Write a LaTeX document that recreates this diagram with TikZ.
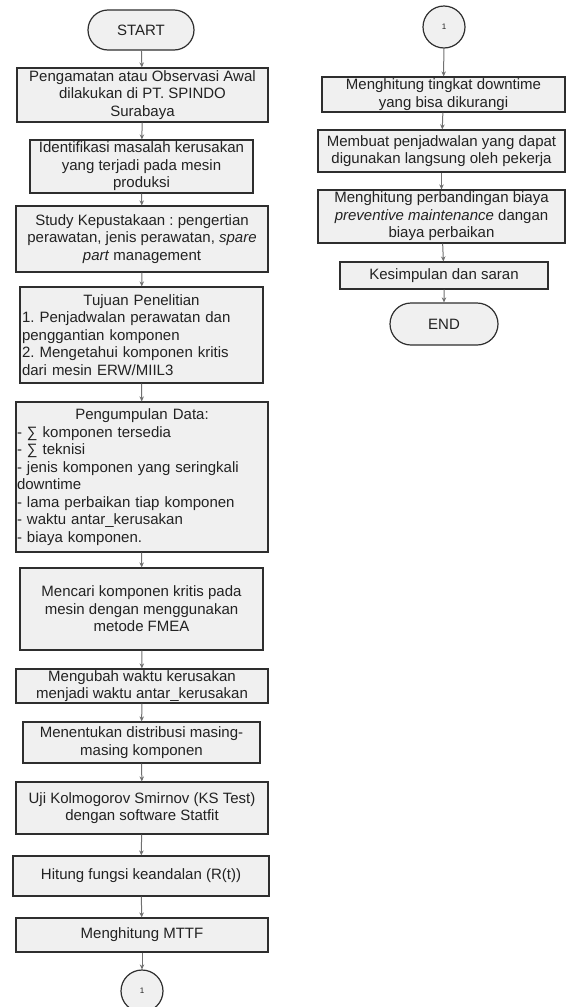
\documentclass[tikz,border=0pt]{standalone}
\usepackage{fontspec}
\setmainfont{Liberation Sans}
\usetikzlibrary{arrows.meta,shapes.misc}
\frenchspacing
\definecolor{boxfill}{HTML}{F0F0F0}
\definecolor{boxline}{HTML}{2E2E2E}
\definecolor{arrcol}{HTML}{707070}
\definecolor{txtcol}{HTML}{222222}
\tikzset{
  base/.style={draw=boxline, line width=1.2pt, fill=boxfill, text=txtcol, inner xsep=2pt, inner ysep=0pt,
    font={\fontsize{15}{17.5}\selectfont\frenchspacing}},
  pbox/.style={base, rectangle, align=center},
  lbox/.style={base, rectangle, align=left},
  term/.style={base, rounded rectangle, align=center},
  conn/.style={base, circle, inner sep=0pt, minimum size=42pt, font={\fontsize{8}{9}\selectfont}},
  arr/.style={draw=arrcol, line width=1pt, -{Stealth[length=5pt,width=4.5pt]}}
}
\begin{document}
\begin{tikzpicture}[x=1pt,y=-1pt]
\useasboundingbox (0,0) rectangle (566,1007);
% left column
\node[term, minimum width=110pt, minimum height=40pt] (start) at (141,30) {START};
\node[pbox, minimum width=251pt, minimum height=54pt] (b1) at (142.5,95) {Pengamatan atau Observasi Awal\\dilakukan di PT. SPINDO\\Surabaya};
\node[pbox, minimum width=223pt, minimum height=53pt] (b2) at (141.5,166.5) {Identifikasi masalah kerusakan\\yang terjadi pada mesin\\produksi};
\node[pbox, minimum width=252pt, minimum height=66pt] (b3) at (142,239) {Study Kepustakaan : pengertian\\perawatan, jenis perawatan, \textit{spare}\\\textit{part} management};
\node[lbox, text width=239pt, minimum height=96pt] (b4) at (141.5,335) {\makebox[239pt][c]{Tujuan Penelitian}\\1. Penjadwalan perawatan dan\\penggantian komponen\\2. Mengetahui komponen kritis\\dari mesin ERW/MIIL3};
\node[lbox, text width=250pt, inner xsep=1pt, minimum height=150pt] (b5) at (142,477) {\makebox[250pt][c]{Pengumpulan Data:}\\- ∑ komponen tersedia\\- ∑ teknisi\\- jenis komponen yang seringkali\\downtime\\- lama perbaikan tiap komponen\\- waktu antar\_kerusakan\\- biaya komponen.};
\node[pbox, minimum width=243pt, minimum height=82pt] (b6) at (141.5,609) {Mencari komponen kritis pada\\mesin dengan menggunakan\\metode FMEA};
\node[pbox, minimum width=252pt, minimum height=34pt] (b7) at (142,686) {Mengubah waktu kerusakan\\menjadi waktu antar\_kerusakan};
\node[pbox, minimum width=237pt, minimum height=41pt] (b8) at (141.5,742.5) {Menentukan distribusi masing-\\masing komponen};
\node[pbox, minimum width=252pt, minimum height=52pt] (b9) at (142,808) {Uji Kolmogorov Smirnov (KS Test)\\dengan software Statfit};
\node[pbox, minimum width=256pt, minimum height=40pt] (b10) at (141,876) {Hitung fungsi keandalan (R(t))};
\node[pbox, minimum width=252pt, minimum height=34pt] (b11) at (142,935) {Menghitung MTTF};
\node[conn] (c1) at (142,991) {1};
% right column
\node[conn] (c2) at (444,27) {1};
\node[pbox, minimum width=243pt, minimum height=35pt] (r1) at (443.5,94.5) {Menghitung tingkat downtime\\yang bisa dikurangi};
\node[pbox, minimum width=247pt, minimum height=42pt] (r2) at (441.5,151) {Membuat penjadwalan yang dapat\\digunakan langsung oleh pekerja};
\node[pbox, minimum width=247pt, minimum height=53pt] (r3) at (441.5,216.5) {Menghitung perbandingan biaya\\\textit{preventive maintenance} dangan\\biaya perbaikan};
\node[pbox, minimum width=208pt, minimum height=27pt] (r4) at (444,275.5) {Kesimpulan dan saran};
\node[term, minimum width=112pt, minimum height=42pt] (end) at (444,324) {END};
% connectors
\draw[arr] (start) -- (b1);
\draw[arr] (b1) -- (b2);
\draw[arr] (b2) -- (b3);
\draw[arr] (b3) -- (b4);
\draw[arr] (b4) -- (b5);
\draw[arr] (b5) -- (b6);
\draw[arr] (b6) -- (b7);
\draw[arr] (b7) -- (b8);
\draw[arr] (b8) -- (b9);
\draw[arr] (b9) -- (b10);
\draw[arr] (b10) -- (b11);
\draw[arr] (b11) -- (c1);
\draw[arr] (c2) -- (r1);
\draw[arr] (r1) -- (r2);
\draw[arr] (r2) -- (r3);
\draw[arr] (r3) -- (r4);
\draw[arr] (r4) -- (end);
\end{tikzpicture}
\end{document}
